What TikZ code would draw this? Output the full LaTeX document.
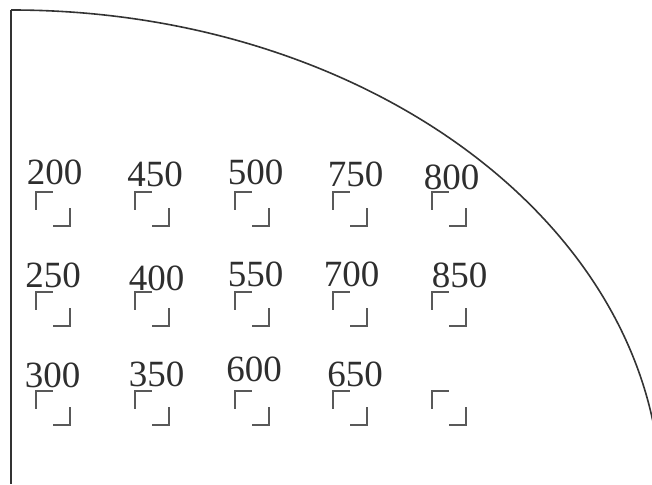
\documentclass[tikz,border=0pt]{standalone}
\usepackage{fontspec}
\setmainfont{Liberation Serif}
\begin{document}
\begin{tikzpicture}[x=1pt,y=1pt,
  lbl/.style={anchor=base,inner sep=0pt,text=black!82,font=\fontsize{37}{40}\selectfont},
  markline/.style={draw=black!65,line width=1.8pt},
  edge/.style={draw=black!80,line width=1.6pt}]
\useasboundingbox (0,0) rectangle (652,484);
% helper: mark with top-left (x,y) in pixel coords (y down)
\newcommand{\cornermark}[2]{%
  \draw[markline] (#1,{484-#2-18}) -- (#1,{484-#2}) -- ({#1+17},{484-#2});
  \draw[markline] ({#1+17},{484-#2-34}) -- ({#1+34},{484-#2-34}) -- ({#1+34},{484-#2-16});
}
% boundary
\coordinate (vtop) at (11,474);
\coordinate (vbot) at (11,0);
\draw[edge] (vtop) -- (vbot);
\begin{scope}
\clip (0,0) rectangle (652,484);
\draw[edge] (vtop) arc[start angle=90,end angle=0,x radius=650pt,y radius=489pt];
\end{scope}
% labels (base positions, y = 484 - baseline)
\node[lbl] (l200) at (54.5,{484-185}) {200};
\node[lbl] (l450) at (155,{484-187}) {450};
\node[lbl] (l500) at (255.5,{484-185}) {500};
\node[lbl] (l750) at (355.5,{484-187}) {750};
\node[lbl] (l800) at (451.5,{484-190}) {800};
\node[lbl] (l250) at (53,{484-288}) {250};
\node[lbl] (l400) at (156.5,{484-291}) {400};
\node[lbl] (l550) at (255.5,{484-287}) {550};
\node[lbl] (l700) at (351.5,{484-287}) {700};
\node[lbl] (l850) at (459.5,{484-288}) {850};
\node[lbl] (l300) at (52.5,{484-388}) {300};
\node[lbl] (l350) at (156.5,{484-387}) {350};
\node[lbl] (l600) at (254,{484-382}) {600};
\node[lbl] (l650) at (355,{484-387}) {650};
% corner marks
\foreach \cx in {36,135,235,333,432}{
  \cornermark{\cx}{192}
  \cornermark{\cx}{292}
  \cornermark{\cx}{391}
}
\end{tikzpicture}
\end{document}
